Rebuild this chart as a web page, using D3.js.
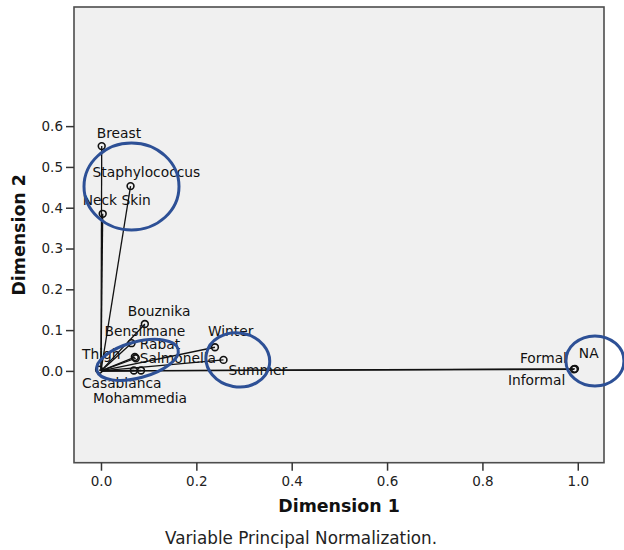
<!DOCTYPE html>
<html>
<head>
<meta charset="utf-8">
<script src="https://cdn.jsdelivr.net/npm/d3@7"></script>
<style>
  html, body { margin: 0; padding: 0; background: #ffffff; }
  svg { display: block; }
  text { font-family: "DejaVu Sans", Verdana, sans-serif; }
</style>
</head>
<body>
<svg id="chart" width="624" height="550"></svg>
<script>
// ---- data ----
const names = ["Breast", "Neck Skin", "Staphylococcus", "Bouznika", "Benslimane", "Rabat",
               "Salmonella", "Winter", "Summer", "Thigh", "Casablanca", "Mohammedia",
               "Formal", "Informal"];
const dim1 = [0.0015, 0.0036, 0.062, 0.092, 0.064, 0.071, 0.073, 0.239, 0.257, -0.004, 0.069, 0.084, 0.994, 0.992];
const dim2 = [0.551, 0.385, 0.453, 0.115, 0.068, 0.034, 0.031, 0.058, 0.027, 0.003, 0.001, 0.001, 0.005, 0.004];
const xTicks = [0.0, 0.2, 0.4, 0.6, 0.8, 1.0];
const yTicks = [0.0, 0.1, 0.2, 0.3, 0.4, 0.5, 0.6];
const xTitle = "Dimension 1";
const yTitle = "Dimension 2";
const footnote = "Variable Principal Normalization.";
// highlight annotations (centres in data units)
const highlightX = [0.064, 0.0766, 0.287, 1.036];
const highlightY = [0.452, 0.027, 0.027, 0.0245];
const noteText = "NA";
const noteX = 1.023, noteY = 0.031;

// ---- layout (pixel offsets for labels, ellipse radii) ----
const labelDx = [-5, -20, -38, -17, -27, 5, 4, -7, 5, -17, -52, -48, -55, -66];
const labelDy = [-8, -9, -9, -8, -7, -8, 5, -11, 15, -11, 18, 33, -6, 16];
const ellRx = [47.5, 42, 32, 29];
const ellRy = [43.5, 18, 27, 25];
const ellRot = [0, -15, 10, 0];

const svg = d3.select("#chart");
const pL = 74, pR = 604, pT = 7, pB = 462.7;

const x = d3.scaleLinear().domain([-0.0566, 1.055]).range([pL, pR]);
const y = d3.scaleLinear().domain([-0.225, 0.892]).range([pB, pT]);

// plot background + frame
svg.append("rect")
  .attr("x", pL).attr("y", pT)
  .attr("width", pR - pL).attr("height", pB - pT)
  .attr("fill", "#f0f0f0").attr("stroke", "#4d4d4d").attr("stroke-width", 1.6);

// axes
const xAxis = d3.axisBottom(x).tickValues(xTicks).tickFormat(d3.format(".1f")).tickSize(8).tickSizeOuter(0);
const gx = svg.append("g").attr("transform", `translate(0,${pB})`).call(xAxis);
gx.select(".domain").remove();
gx.selectAll(".tick line").attr("stroke", "#333").attr("stroke-width", 1.5);
gx.selectAll(".tick text").attr("font-size", "13.5px").attr("fill", "#222")
  .attr("font-family", "DejaVu Sans").attr("dy", "0.9em");

const yAxis = d3.axisLeft(y).tickValues(yTicks).tickFormat(d3.format(".1f")).tickSize(8).tickPadding(3).tickSizeOuter(0);
const gy = svg.append("g").attr("transform", `translate(${pL},0)`).call(yAxis);
gy.select(".domain").remove();
gy.selectAll(".tick line").attr("stroke", "#333").attr("stroke-width", 1.5);
gy.selectAll(".tick text").attr("font-size", "13.5px").attr("fill", "#222")
  .attr("font-family", "DejaVu Sans");

// vectors from origin
const idx = d3.range(names.length);
svg.append("g").selectAll("line").data(idx).join("line")
  .attr("x1", x(0)).attr("y1", y(0))
  .attr("x2", i => x(dim1[i])).attr("y2", i => y(dim2[i]))
  .attr("stroke", "#111").attr("stroke-width", 1.3);

// points
svg.append("g").selectAll("circle").data(idx).join("circle")
  .attr("cx", i => x(dim1[i])).attr("cy", i => y(dim2[i]))
  .attr("r", 3.4).attr("fill", "none").attr("stroke", "#111").attr("stroke-width", 1.6);

// labels
svg.append("g").selectAll("text").data(idx).join("text")
  .attr("x", i => x(dim1[i]) + labelDx[i]).attr("y", i => y(dim2[i]) + labelDy[i])
  .attr("font-size", "13.8px").attr("fill", "#111")
  .text(i => names[i]);

// note text
svg.append("text")
  .attr("x", x(noteX)).attr("y", y(noteY))
  .attr("text-anchor", "middle").attr("font-size", "13.8px").attr("fill", "#111")
  .text(noteText);

// highlight ellipses
svg.append("g").selectAll("ellipse").data(d3.range(highlightX.length)).join("ellipse")
  .attr("transform", i => `translate(${x(highlightX[i])},${y(highlightY[i])}) rotate(${ellRot[i]})`)
  .attr("rx", i => ellRx[i]).attr("ry", i => ellRy[i])
  .attr("fill", "none").attr("stroke", "#2d5096").attr("stroke-width", 3);

// titles
svg.append("text")
  .attr("x", (pL + pR) / 2).attr("y", 511.7)
  .attr("text-anchor", "middle").attr("font-size", "17.4px").attr("font-weight", "bold")
  .attr("fill", "#111").text(xTitle);

svg.append("text")
  .attr("transform", `translate(25,${(pT + pB) / 2}) rotate(-90)`)
  .attr("text-anchor", "middle").attr("font-size", "17.4px").attr("font-weight", "bold")
  .attr("fill", "#111").text(yTitle);

svg.append("text")
  .attr("x", 301).attr("y", 544)
  .attr("text-anchor", "middle").attr("font-size", "16.8px")
  .attr("fill", "#222").text(footnote);
</script>
</body>
</html>
